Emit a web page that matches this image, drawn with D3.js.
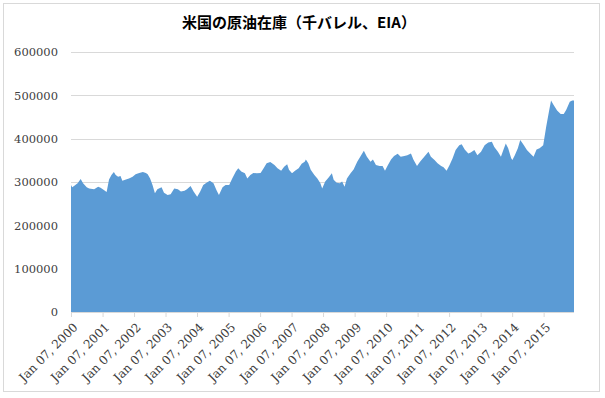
<!DOCTYPE html>
<html>
<head>
<meta charset="utf-8">
<script src="https://cdn.jsdelivr.net/npm/d3@7"></script>
<style>
  body { margin: 0; background: #fff; }
  svg text { fill: #404040; }
</style>
</head>
<body>
<div id="chart"></div>
<script>
// weekly crude stocks (thousand barrels)
const dates = [
  "2000-01-07","2000-01-21","2000-02-11","2000-03-24","2000-04-28","2000-05-26","2000-07-07","2000-08-04",
  "2000-10-01","2000-11-17","2000-12-15","2001-01-26","2001-02-23","2001-03-23","2001-04-20","2001-05-18",
  "2001-06-08","2001-07-06","2001-08-03","2001-08-24","2001-10-05","2001-11-09","2001-12-21","2002-01-25",
  "2002-03-08","2002-04-19","2002-05-24","2002-06-14","2002-07-12","2002-08-09","2002-09-06","2002-10-04",
  "2002-11-22","2002-12-20","2003-01-31","2003-03-07","2003-04-18","2003-05-30","2003-07-04","2003-08-15",
  "2003-09-12","2003-10-24","2003-11-28","2004-01-09","2004-02-13","2004-03-19","2004-04-30","2004-06-04",
  "2004-07-16","2004-08-20","2004-09-17","2004-10-29","2004-12-03","2005-01-14","2005-02-18","2005-04-01",
  "2005-04-29","2005-06-03","2005-07-15","2005-08-12","2005-09-16","2005-10-21","2005-12-02","2006-01-13",
  "2006-02-17","2006-03-24","2006-05-05","2006-06-23","2006-07-28","2006-09-08","2006-10-13","2006-11-17",
  "2006-12-08","2007-01-12","2007-02-16","2007-03-30","2007-05-04","2007-06-08","2007-06-22","2007-07-20",
  "2007-08-17","2007-09-28","2007-11-02","2007-12-07","2007-12-28","2008-02-01","2008-03-14","2008-04-18",
  "2008-05-09","2008-06-13","2008-07-18","2008-08-15","2008-09-12","2008-10-10","2008-11-21","2008-12-26",
  "2009-02-06","2009-03-13","2009-04-24","2009-05-29","2009-07-10","2009-08-07","2009-09-11","2009-10-23",
  "2009-11-27","2009-12-25","2010-01-22","2010-03-05","2010-04-09","2010-05-21","2010-06-25","2010-08-06",
  "2010-09-10","2010-10-22","2010-11-19","2010-12-31","2011-02-04","2011-03-25","2011-05-13","2011-06-10",
  "2011-07-22","2011-08-26","2011-10-07","2011-11-04","2011-12-09","2012-01-13","2012-02-17","2012-03-23",
  "2012-05-04","2012-06-01","2012-07-06","2012-08-17","2012-09-14","2012-10-26","2012-11-30","2013-01-11",
  "2013-02-22","2013-04-05","2013-05-17","2013-06-14","2013-07-26","2013-08-30","2013-09-27","2013-10-25",
  "2013-11-22","2013-12-27","2014-01-10","2014-02-07","2014-03-14","2014-04-11","2014-05-23","2014-06-27",
  "2014-08-08","2014-09-12","2014-10-17","2014-11-21","2015-01-02","2015-02-06","2015-03-13","2015-04-03",
  "2015-05-01","2015-06-12","2015-07-24","2015-08-28","2015-09-25","2015-11-06","2015-12-04","2015-12-25"
];
const stocks = [
  293000,288000,291000,297000,307000,297000,288000,285000,
  283000,289000,287000,281000,277000,306000,316000,323000,
  316000,312000,314000,303000,306000,308000,312000,318000,
  321000,323000,321000,318000,308000,293000,274000,283000,
  288000,275000,270000,272000,285000,283000,278000,280000,
  283000,291000,278000,266000,278000,293000,299000,303000,
  297000,281000,270000,288000,293000,293000,308000,324000,
  332000,324000,320000,308000,316000,321000,320000,321000,
  332000,343000,346000,339000,332000,326000,335000,341000,
  328000,320000,326000,332000,342000,347000,352000,343000,
  328000,316000,308000,297000,285000,301000,311000,320000,
  305000,298000,297000,301000,289000,308000,320000,329000,
  347000,358000,372000,358000,347000,352000,339000,337000,
  337000,326000,337000,352000,360000,365000,358000,360000,
  362000,366000,352000,337000,347000,358000,370000,358000,
  351000,343000,337000,334000,326000,339000,355000,374000,
  385000,387000,375000,366000,368000,374000,362000,370000,
  385000,391000,393000,381000,370000,358000,374000,389000,
  378000,355000,351000,362000,378000,397000,385000,374000,
  365000,358000,375000,378000,385000,428000,466000,488000,
  478000,465000,457000,457000,466000,485000,488000,488000
];
const tickYears = [2000,2001,2002,2003,2004,2005,2006,2007,2008,2009,2010,2011,2012,2013,2014,2015];
const yTicks = [0,100000,200000,300000,400000,500000,600000];
const title = "米国の原油在庫（千バレル、EIA）";

const W = 605, H = 398;
const plotLeft = 71, plotRight = 574, plotTop = 52, plotBottom = 312;
const labelFont = "'DejaVu Serif', 'Liberation Serif', serif";

const parse = d3.timeParse("%Y-%m-%d");
const data = dates.map(function(d, i) { return {date: parse(d), value: stocks[i]}; });

const x = d3.scaleTime()
  .domain(d3.extent(data, function(d) { return d.date; }))
  .range([plotLeft, plotRight]);
const y = d3.scaleLinear().domain([0, 600000]).range([plotBottom, plotTop]);

const svg = d3.select("#chart").append("svg")
  .attr("width", W).attr("height", H);

// outer frame
svg.append("rect")
  .attr("x", 3.5).attr("y", 3.5)
  .attr("width", 596).attr("height", 388)
  .attr("fill", "#fff").attr("stroke", "#d9d9d9");

svg.append("text")
  .attr("x", 299).attr("y", 28)
  .attr("text-anchor", "middle")
  .attr("font-family", "'Noto Sans CJK JP', sans-serif")
  .attr("font-weight", "bold")
  .attr("font-size", 15)
  .style("fill", "#000")
  .text(title);

// gridlines
svg.append("g")
  .selectAll("line")
  .data(yTicks.slice(1))
  .enter().append("line")
    .attr("x1", plotLeft).attr("x2", plotRight)
    .attr("y1", function(d) { return Math.round(y(d)) + 0.5; })
    .attr("y2", function(d) { return Math.round(y(d)) + 0.5; })
    .attr("stroke", "#d9d9d9");

const area = d3.area()
  .x(function(d) { return x(d.date); })
  .y0(y(0))
  .y1(function(d) { return y(d.value); })
  .curve(d3.curveLinear);

svg.append("path")
  .datum(data)
  .attr("d", area)
  .attr("fill", "#5b9bd5");

// y axis labels
const yAxis = d3.axisLeft(y).tickValues(yTicks).tickSize(0).tickPadding(13)
  .tickFormat(d3.format("d"));
const yg = svg.append("g")
  .attr("transform", "translate(" + plotLeft + ",0)")
  .call(yAxis);
yg.select(".domain").remove();
yg.selectAll("text")
  .attr("font-family", labelFont).attr("font-size", 11.5)
  .style("fill", "#404040");

// x axis
const xTicks = tickYears.map(function(yr) { return new Date(yr, 0, 7); });
const xAxis = d3.axisBottom(x).tickValues(xTicks).tickSize(5)
  .tickSizeOuter(0)
  .tickFormat(d3.timeFormat("%b %d, %Y"));
const xg = svg.append("g")
  .attr("transform", "translate(0," + plotBottom + ")")
  .call(xAxis);
xg.select(".domain")
  .attr("d", "M" + plotLeft + ",0.5H" + plotRight)
  .attr("stroke", "#d9d9d9");
xg.selectAll(".tick line").attr("stroke", "#d9d9d9");
xg.selectAll("text")
  .attr("font-family", labelFont).attr("font-size", 12)
  .style("fill", "#404040")
  .attr("text-anchor", "end")
  .attr("dy", "0.35em")
  .attr("y", 0)
  .attr("transform", "translate(4,13) rotate(-45)");
</script>
</body>
</html>
